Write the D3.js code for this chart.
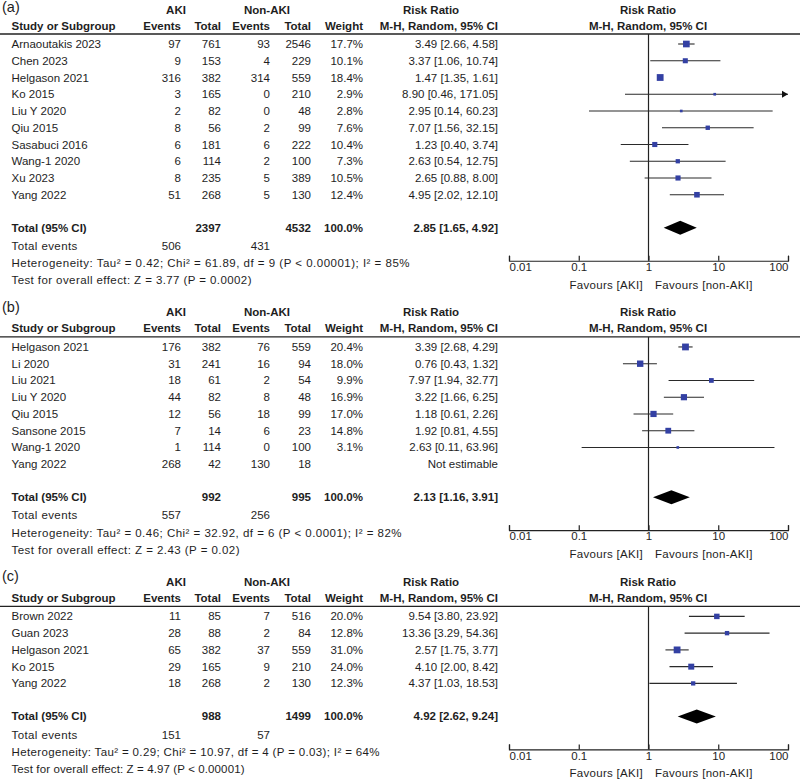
<!DOCTYPE html>
<html><head><meta charset="utf-8">
<script src="https://cdn.jsdelivr.net/npm/d3@7"></script>
<style>body{margin:0;background:#fff}svg{display:block}</style></head>
<body><svg id="c" width="800" height="782"></svg>
<script>
// ---------- DATA ----------
const studiesA = ["Arnaoutakis 2023","Chen 2023","Helgason 2021","Ko 2015","Liu Y 2020","Qiu 2015","Sasabuci 2016","Wang-1 2020","Xu 2023","Yang 2022"];
const akiEventsA = [97,9,316,3,2,8,6,6,8,51];
const akiTotalA = [761,153,382,165,82,56,181,114,235,268];
const nonEventsA = [93,4,314,0,0,2,6,2,5,5];
const nonTotalA = [2546,229,559,210,48,99,222,100,389,130];
const weightA = [17.7,10.1,18.4,2.9,2.8,7.6,10.4,7.3,10.5,12.4];
const rrA = [3.49,3.37,1.47,8.90,2.95,7.07,1.23,2.63,2.65,4.95];
const loA = [2.66,1.06,1.35,0.46,0.14,1.56,0.40,0.54,0.88,2.02];
const hiA = [4.58,10.74,1.61,171.05,60.23,32.15,3.74,12.75,8.00,12.10];
const totalA = {aki:2397, non:4532, rr:2.85, lo:1.65, hi:4.92, evAki:506, evNon:431,
  het:"Heterogeneity: Tau\u00B2 = 0.42; Chi\u00B2 = 61.89, df = 9 (P < 0.00001); I\u00B2 = 85%",
  test:"Test for overall effect: Z = 3.77 (P = 0.0002)"};

const studiesB = ["Helgason 2021","Li 2020","Liu 2021","Liu Y 2020","Qiu 2015","Sansone 2015","Wang-1 2020","Yang 2022"];
const akiEventsB = [176,31,18,44,12,7,1,268];
const akiTotalB = [382,241,61,82,56,14,114,42];
const nonEventsB = [76,16,2,8,18,6,0,130];
const nonTotalB = [559,94,54,48,99,23,100,18];
const weightB = [20.4,18.0,9.9,16.9,17.0,14.8,3.1,null];
const rrB = [3.39,0.76,7.97,3.22,1.18,1.92,2.63,null];
const loB = [2.68,0.43,1.94,1.66,0.61,0.81,0.11,null];
const hiB = [4.29,1.32,32.77,6.25,2.26,4.55,63.96,null];
const totalB = {aki:992, non:995, rr:2.13, lo:1.16, hi:3.91, evAki:557, evNon:256,
  het:"Heterogeneity: Tau\u00B2 = 0.46; Chi\u00B2 = 32.92, df = 6 (P < 0.0001); I\u00B2 = 82%",
  test:"Test for overall effect: Z = 2.43 (P = 0.02)"};

const studiesC = ["Brown 2022","Guan 2023","Helgason 2021","Ko 2015","Yang 2022"];
const akiEventsC = [11,28,65,29,18];
const akiTotalC = [85,88,382,165,268];
const nonEventsC = [7,2,37,9,2];
const nonTotalC = [516,84,559,210,130];
const weightC = [20.0,12.8,31.0,24.0,12.3];
const rrC = [9.54,13.36,2.57,4.10,4.37];
const loC = [3.80,3.29,1.75,2.00,1.03];
const hiC = [23.92,54.36,3.77,8.42,18.53];
const totalC = {aki:988, non:1499, rr:4.92, lo:2.62, hi:9.24, evAki:151, evNon:57,
  het:"Heterogeneity: Tau\u00B2 = 0.29; Chi\u00B2 = 10.97, df = 4 (P = 0.03); I\u00B2 = 64%",
  test:"Test for overall effect: Z = 4.97 (P < 0.00001)"};

const tickValues = [0.01, 0.1, 1, 10, 100];
const tickLabels = ["0.01", "0.1", "1", "10", "100"];

// ---------- LAYOUT ----------
const FONT = "'Liberation Sans', Arial, Helvetica, sans-serif";
const FS = 11.5;
const TXT = "#1e1e1e";
const SQ = "#3340a3";
const ROW = 16.75;
const col = {study:11.5, akiEv:181, akiTot:221, nonEv:270, nonTot:311, weight:363, rr:498};
// rendered widths of the footnote sentences (layout only)
const footW = {a:[398, 240], b:[390, 228], c:[368, 233]};
const x = d3.scaleLog().domain([0.01, 100]).range([509, 788]);

const svg = d3.select("#c");

function txt(g, px, py, s, anchor, bold, size, color){
  return g.append("text").attr("x", px).attr("y", py).attr("dy", "0.35em")
    .attr("text-anchor", anchor || "start")
    .attr("font-family", FONT).attr("font-size", size || FS)
    .attr("font-weight", bold ? "bold" : "normal")
    .attr("fill", color || TXT).text(s);
}
const f2 = d3.format(".2f");
const ciText = (r, l, h) => `${f2(r)} [${f2(l)}, ${f2(h)}]`;

function drawPanel(label, key, top, studies, ae, at, ne, nt, w, rr, lo, hi, tot){
  const g = svg.append("g");
  const n = studies.length;
  const y = d3.scalePoint().domain(d3.range(n)).range([top + 10, top + 10 + (n - 1) * ROW]);
  const yTotal = y(n - 1) + 33, yEvents = yTotal + 18.2, yHet = yEvents + 17.3, yTest = yHet + 17;
  const yAxis = yTotal + 33;

  // panel label & headers
  txt(g, 2, Math.max(top - 30, 7), label, "start", false, 14.5);
  txt(g, 176, top - 24.5, "AKI", "middle", true);
  txt(g, 267, top - 24.5, "Non-AKI", "middle", true);
  txt(g, 431, top - 24.5, "Risk Ratio", "middle", true);
  txt(g, 648, top - 24.5, "Risk Ratio", "middle", true);
  const hy = top - 8.5;
  txt(g, col.study, hy, "Study or Subgroup", "start", true);
  txt(g, col.akiEv, hy, "Events", "end", true);
  txt(g, col.akiTot, hy, "Total", "end", true);
  txt(g, col.nonEv, hy, "Events", "end", true);
  txt(g, col.nonTot, hy, "Total", "end", true);
  txt(g, col.weight, hy, "Weight", "end", true);
  txt(g, col.rr, hy, "M-H, Random, 95% CI", "end", true);
  txt(g, 648, hy, "M-H, Random, 95% CI", "middle", true);
  g.append("line").attr("x1", 0).attr("x2", 800).attr("y1", top).attr("y2", top)
    .attr("stroke", "#222").attr("stroke-width", 1.3);

  // rows
  studies.forEach((s, i) => {
    const yy = y(i);
    txt(g, col.study, yy, s);
    txt(g, col.akiEv, yy, ae[i], "end");
    txt(g, col.akiTot, yy, at[i], "end");
    txt(g, col.nonEv, yy, ne[i], "end");
    txt(g, col.nonTot, yy, nt[i], "end");
    if (w[i] != null) {
      txt(g, col.weight, yy, w[i].toFixed(1) + "%", "end");
      txt(g, col.rr, yy, ciText(rr[i], lo[i], hi[i]), "end");
    } else {
      txt(g, col.rr, yy, "Not estimable", "end");
    }
  });

  // totals
  txt(g, col.study, yTotal, "Total (95% CI)", "start", true);
  txt(g, col.akiTot, yTotal, tot.aki, "end", true);
  txt(g, col.nonTot, yTotal, tot.non, "end", true);
  txt(g, col.weight, yTotal, "100.0%", "end", true);
  txt(g, col.rr, yTotal, ciText(tot.rr, tot.lo, tot.hi), "end", true);
  txt(g, col.study, yEvents, "Total events").attr("letter-spacing", 0.4);
  txt(g, col.akiEv, yEvents, tot.evAki, "end");
  txt(g, col.nonEv, yEvents, tot.evNon, "end");
  txt(g, col.study, yHet, tot.het).attr("textLength", footW[key][0]).attr("lengthAdjust", "spacing");
  txt(g, col.study, yTest, tot.test).attr("textLength", footW[key][1]).attr("lengthAdjust", "spacing");

  // null line
  g.append("line").attr("x1", x(1)).attr("x2", x(1)).attr("y1", top).attr("y2", yAxis)
    .attr("stroke", "#222").attr("stroke-width", 1.2);

  // CIs and squares
  const sz = d3.scaleSqrt().domain([0, d3.max(w.filter(v => v != null))]).range([0, 6.8]);
  const [xmin, xmax] = x.domain();
  studies.forEach((s, i) => {
    if (w[i] == null) return;
    const yy = y(i);
    const l = Math.max(lo[i], xmin), h = Math.min(hi[i], xmax);
    g.append("line").attr("x1", x(l)).attr("x2", x(h)).attr("y1", yy).attr("y2", yy)
      .attr("stroke", "#2a2a2a").attr("stroke-width", 1.1);
    if (hi[i] > xmax) {
      const ax = x(xmax);
      g.append("path").attr("d", `M${ax},${yy}L${ax-6},${yy-3.5}L${ax-6},${yy+3.5}Z`).attr("fill", "#111");
    }
    if (lo[i] < xmin) {
      const ax = x(xmin);
      g.append("path").attr("d", `M${ax},${yy}L${ax+6},${yy-3.5}L${ax+6},${yy+3.5}Z`).attr("fill", "#111");
    }
    const s2 = Math.max(sz(w[i]), 2);
    g.append("rect").attr("x", x(rr[i]) - s2/2).attr("y", yy - s2/2)
      .attr("width", s2).attr("height", s2).attr("fill", SQ);
  });

  // diamond
  g.append("path")
    .attr("d", `M${x(tot.lo)},${yTotal}L${x(tot.rr)},${yTotal-7}L${x(tot.hi)},${yTotal}L${x(tot.rr)},${yTotal+7}Z`)
    .attr("fill", "#000");

  // axis
  const ax = g.append("g").attr("transform", `translate(0,${yAxis})`)
    .call(d3.axisBottom(x).tickValues(tickValues)
      .tickFormat((d, i) => tickLabels[i]).tickSize(-5).tickSizeOuter(-5).tickPadding(2));
  ax.select(".domain").attr("stroke", "#222").attr("stroke-width", 1.2);
  ax.selectAll(".tick line").attr("stroke", "#222").attr("stroke-width", 1.2);
  ax.selectAll(".tick text").attr("font-family", FONT).attr("font-size", FS).attr("fill", TXT)
    .attr("text-anchor", (d, i) => i === 0 ? "start" : (i === tickValues.length - 1 ? "end" : "middle"));
  txt(g, 643, yAxis + 24, "Favours [AKI]", "end").attr("letter-spacing", 0.3);
  txt(g, 655, yAxis + 24, "Favours [non-AKI]", "start").attr("letter-spacing", 0.3);

  return yTest;
}

let endA = drawPanel("(a)", "a", 34, studiesA, akiEventsA, akiTotalA, nonEventsA, nonTotalA, weightA, rrA, loA, hiA, totalA);
let endB = drawPanel("(b)", "b", endA + 56.7, studiesB, akiEventsB, akiTotalB, nonEventsB, nonTotalB, weightB, rrB, loB, hiB, totalB);
drawPanel("(c)", "c", endB + 56.7, studiesC, akiEventsC, akiTotalC, nonEventsC, nonTotalC, weightC, rrC, loC, hiC, totalC);
</script>
</body></html>
